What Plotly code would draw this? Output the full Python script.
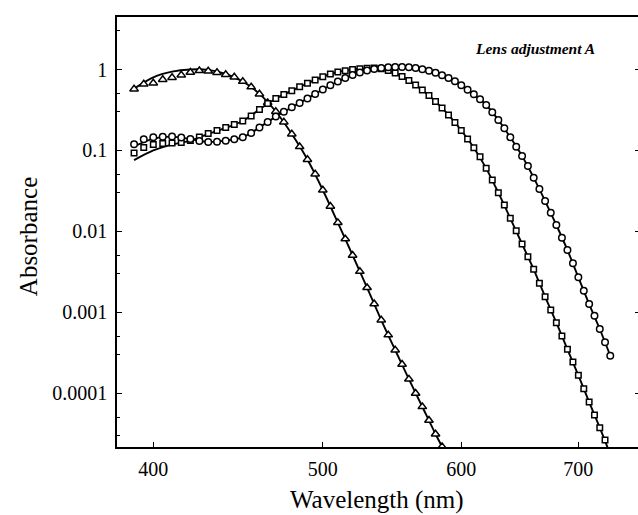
import plotly.graph_objects as go

# ---------------- data ----------------
wl_S = list(range(390, 590, 5))          # 390 .. 585 nm (triangles)
S_abs = [0.574, 0.662, 0.681, 0.752, 0.796, 0.855, 0.923, 0.966, 0.958, 0.918,
         0.867, 0.808, 0.711, 0.608, 0.498, 0.389, 0.3026, 0.2244, 0.1595, 0.111,
         0.0772, 0.0511, 0.0324, 0.0204, 0.0128, 0.00805, 0.00506, 0.00319, 0.00201, 0.00127,
         0.000801, 0.000523, 0.000341, 0.000227, 0.000149, 0.0000994, 0.0000679, 0.0000461,
         0.0000312, 0.0000218]

wl_M = list(range(390, 730, 5))          # 390 .. 725 nm (squares)
M_abs = [0.0929, 0.1086, 0.1183, 0.1217, 0.1235, 0.1252, 0.1326, 0.1464, 0.1618, 0.1762,
         0.1919, 0.209, 0.2309, 0.2661, 0.3203, 0.38, 0.438, 0.491, 0.547, 0.613,
         0.675, 0.742, 0.815, 0.88, 0.931, 0.966, 0.997, 1.023, 1.038, 1.044,
         1.02, 0.972, 0.905, 0.819, 0.731, 0.643, 0.558, 0.477, 0.402, 0.334,
         0.274, 0.2213, 0.1762, 0.1383, 0.108, 0.0836, 0.06006, 0.04306, 0.03, 0.02114,
         0.01448, 0.01017, 0.00697, 0.00485, 0.00339, 0.002277, 0.001555, 0.001065, 0.000742, 0.000508,
         0.000348, 0.000242, 0.000166, 0.0001134, 0.0000776, 0.0000536, 0.0000374, 0.0000263]

wl_L = list(range(390, 735, 5))          # 390 .. 730 nm (circles)
L_abs = [0.119, 0.137, 0.145, 0.148, 0.149, 0.144, 0.138, 0.131, 0.127, 0.128,
         0.132, 0.137, 0.145, 0.164, 0.192, 0.224, 0.262, 0.301, 0.341, 0.385,
         0.438, 0.498, 0.566, 0.638, 0.711, 0.785, 0.855, 0.918, 0.972, 1.014,
         1.044, 1.065, 1.074, 1.074, 1.065, 1.044, 1.009, 0.964, 0.91, 0.85,
         0.785, 0.715, 0.64, 0.563, 0.494, 0.428, 0.364, 0.297, 0.2375, 0.1876,
         0.145, 0.111, 0.0852, 0.0641, 0.046, 0.0333, 0.0237, 0.017, 0.01197, 0.00834,
         0.00587, 0.00402, 0.0027, 0.00184, 0.00126, 0.000905, 0.00062, 0.000425, 0.00029]

# template curves (solid lines)
tw_S = list(range(390, 600, 10))
tS = [0.58, 0.80, 0.94, 1.0, 0.99, 0.88, 0.71, 0.50, 0.3026, 0.1595, 0.0772,
      0.0324, 0.0128, 0.00506, 0.00201, 0.000801, 0.000341, 0.000149, 0.0000679,
      0.0000312, 0.0000153]

tw_M = list(range(390, 740, 10))
tM = [0.076, 0.100, 0.118, 0.132, 0.16, 0.19, 0.231, 0.32, 0.438, 0.547, 0.675,
      0.815, 0.931, 0.997, 1.038, 1.02, 0.905, 0.731, 0.558, 0.402, 0.274, 0.1762,
      0.108, 0.06, 0.03, 0.01448, 0.00697, 0.00339, 0.001555, 0.000742, 0.000348,
      0.000166, 0.0000776, 0.0000374, 0.0000175]

tw_L = list(range(390, 740, 10))
tL = [0.112, 0.14, 0.148, 0.138, 0.127, 0.132, 0.145, 0.192, 0.262, 0.341, 0.438,
      0.566, 0.711, 0.855, 0.972, 1.044, 1.074, 1.065, 1.009, 0.91, 0.785, 0.64,
      0.494, 0.364, 0.2375, 0.145, 0.0852, 0.046, 0.0237, 0.01197, 0.00587, 0.0027,
      0.00126, 0.00062, 0.00029]

x_ticks = [400, 500, 600, 700]
y_ticks = [1, 0.1, 0.01, 0.001, 0.0001]
y_tick_text = ["1", "0.1", "0.01", "0.001", "0.0001"]
y_minor = [3, 0.5, 0.3, 0.05, 0.03, 0.005, 0.003, 0.0005, 0.0003, 0.00005, 0.00003]

FONT = "Liberation Serif"

fig = go.Figure()

for tw, tv in ((tw_S, tS), (tw_M, tM), (tw_L, tL)):
    fig.add_trace(go.Scatter(x=tw, y=tv, mode="lines",
                             line=dict(color="black", width=1.9, shape="spline", smoothing=0.8),
                             showlegend=False, hoverinfo="skip"))

for wl, vals, sym, size in ((wl_S, S_abs, "triangle-up", 7.5),
                            (wl_M, M_abs, "square", 5.5),
                            (wl_L, L_abs, "circle", 6.5)):
    fig.add_trace(go.Scatter(x=wl, y=vals, mode="markers",
                             marker=dict(symbol=sym, size=size, color="white",
                                         line=dict(color="black", width=1.5)),
                             showlegend=False))

# invisible trace to carry the right-hand tick axis
fig.add_trace(go.Scatter(x=[400], y=[1], yaxis="y2", mode="markers",
                         marker=dict(opacity=0), showlegend=False, hoverinfo="skip"))

fig.update_layout(
    width=638, height=515,
    margin=dict(l=117, r=0, t=17, b=68, autoexpand=False),
    paper_bgcolor="white", plot_bgcolor="white",
    font=dict(family=FONT, color="black"),
    xaxis=dict(type="log", range=[2.581305, 2.87919], automargin=False,
               tickmode="array", tickvals=x_ticks, ticktext=[str(v) for v in x_ticks],
               ticks="inside", ticklen=5, tickwidth=1.3, tickcolor="black",
               showline=True, linecolor="black", linewidth=2, mirror=True,
               showgrid=False, zeroline=False,
               tickfont=dict(size=20, family=FONT),
               ticklabelstandoff=3),
    yaxis=dict(type="log", range=[-4.666, 0.649], automargin=False,
               tickmode="array", tickvals=y_ticks, ticktext=y_tick_text,
               ticks="inside", ticklen=5, tickwidth=1.3, tickcolor="black",
               minor=dict(tickmode="array", tickvals=y_minor, ticks="inside",
                          ticklen=3, tickwidth=1, tickcolor="black", showgrid=False),
               showline=True, linecolor="black", linewidth=1.5,
               showgrid=False, zeroline=False,
               tickfont=dict(size=20, family=FONT),
               ticklabelstandoff=4),
    yaxis2=dict(type="log", range=[-4.666, 0.649], overlaying="y", side="right",
                automargin=False,
                tickmode="array", tickvals=y_ticks, showticklabels=False,
                ticks="inside", ticklen=3, tickwidth=1.3, tickcolor="black",
                showline=False, showgrid=False, zeroline=False),
    annotations=[
        dict(text="<b><i>Lens adjustment A</i></b>", xref="paper", yref="paper",
             x=0.9214, y=0.926, xanchor="right", yanchor="middle",
             showarrow=False, font=dict(size=15.5, family=FONT, color="black")),
        dict(text="Wavelength (nm)", xref="paper", yref="paper",
             x=0.499, y=-0.123, xanchor="center", yanchor="middle",
             showarrow=False, font=dict(size=25, family=FONT, color="black")),
        dict(text="Absorbance", xref="paper", yref="paper", textangle=-90,
             x=-0.1708, y=0.488, xanchor="center", yanchor="middle",
             showarrow=False, font=dict(size=25, family=FONT, color="black")),
    ],
)

fig.write_html("out.html",
               config={"displayModeBar": False, "responsive": False},
               post_script="document.body.style.margin='0';document.body.style.padding='0';"
                           "document.documentElement.style.margin='0';")
